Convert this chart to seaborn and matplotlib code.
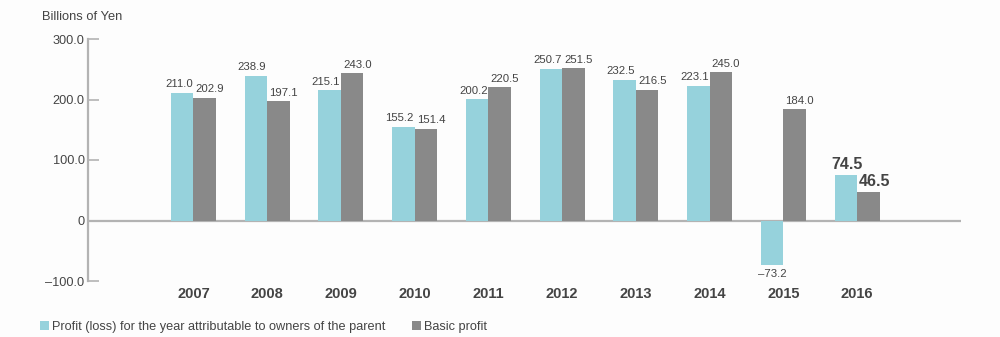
import matplotlib
matplotlib.use("Agg")
import matplotlib.pyplot as plt
import seaborn as sns
import pandas as pd
from matplotlib.patches import Patch

years = ["2007", "2008", "2009", "2010", "2011", "2012", "2013", "2014", "2015", "2016"]
profit = [211.0, 238.9, 215.1, 155.2, 200.2, 250.7, 232.5, 223.1, -73.2, 74.5]
basic = [202.9, 197.1, 243.0, 151.4, 220.5, 251.5, 216.5, 245.0, 184.0, 46.5]
series = ["Profit (loss) for the year attributable to owners of the parent", "Basic profit"]
colors = ["#96d2dc", "#898989"]
yticks = [-100, 0, 100, 200, 300]
ytick_labels = ["\u2013100.0", "0", "100.0", "200.0", "300.0"]

df = pd.DataFrame({
    "Year": years * 2,
    "Value": profit + basic,
    "Series": [series[0]] * len(years) + [series[1]] * len(years),
})

sns.set_theme(style="white")
plt.rcParams["font.family"] = ["Liberation Sans", "DejaVu Sans"]

text_col = "#444444"
axis_col = "#b3b3b3"

fig = plt.figure(figsize=(10, 3.37), dpi=100)
fig.patch.set_facecolor("#fdfdfd")
ax = fig.add_axes([0.088, 1 - 281 / 337, 0.873, (281 - 39) / 337])
ax.set_facecolor("none")

sns.barplot(data=df, x="Year", y="Value", hue="Series", palette=colors,
            width=0.61, gap=0, saturation=1, errorbar=None, legend=False, ax=ax,
            linewidth=0)

ax.set_xlim(-1.43, 10.41)
ax.set_ylim(-100, 300)
ax.set_yticks(yticks)
ax.set_yticklabels(ytick_labels)
ax.set_xlabel("")
ax.set_ylabel("")

for s in ["top", "right", "bottom"]:
    ax.spines[s].set_visible(False)
ax.spines["left"].set_color(axis_col)
ax.spines["left"].set_linewidth(1.6)
ax.axhline(0, color=axis_col, lw=1.6, zorder=0.5)

ax.tick_params(axis="y", direction="in", length=8, width=1.2, color=axis_col,
               labelsize=9.2, labelcolor=text_col, pad=2.5, left=True)
ax.tick_params(axis="x", length=0, pad=4.5, labelsize=10.5, labelcolor=text_col)
for lbl in ax.get_xticklabels():
    lbl.set_fontweight("bold")

# value labels
n = len(years)
for ci, cont in enumerate(ax.containers):
    vals = profit if ci == 0 else basic
    for i, bar in enumerate(cont):
        v = vals[i]
        txt = f"{v:.1f}".replace("-", "\u2013")
        x0 = bar.get_x()
        x1 = x0 + bar.get_width()
        last = (i == n - 1)
        fs = 11.5 if last else 8.2
        fw = "bold" if last else "normal"
        if v < 0:
            ax.annotate(txt, ((x0 + x1) / 2, v), xytext=(0.5, -3), textcoords="offset points",
                        ha="center", va="top", fontsize=fs, fontweight=fw, color=text_col)
        elif ci == 0:
            if last:
                ax.annotate(txt, ((x0 + x1) / 2, v), xytext=(1, 2.5), textcoords="offset points",
                            ha="center", va="bottom", fontsize=fs, fontweight=fw, color=text_col)
            else:
                ax.annotate(txt, (x1, v), xytext=(-0.5, 2.5), textcoords="offset points",
                            ha="right", va="bottom", fontsize=fs, fontweight=fw, color=text_col)
        else:
            ax.annotate(txt, (x0, v), xytext=(1.5, 2.5), textcoords="offset points",
                        ha="left", va="bottom", fontsize=fs, fontweight=fw, color=text_col)

fig.text(0.042, 1 - 20 / 337, "Billions of Yen", fontsize=9.3, color=text_col, va="baseline")

handles = [Patch(facecolor=c, edgecolor="none") for c in colors]
fig.legend(handles, series, loc="center left", bbox_to_anchor=(0.04, 1 - 327 / 337),
           ncol=2, frameon=False, fontsize=9.2, handlelength=0.7, handleheight=0.7,
           handletextpad=0.25, columnspacing=2.05, borderpad=0, borderaxespad=0,
           labelcolor=text_col)

fig.savefig("out.png", dpi=100, facecolor=fig.get_facecolor())
